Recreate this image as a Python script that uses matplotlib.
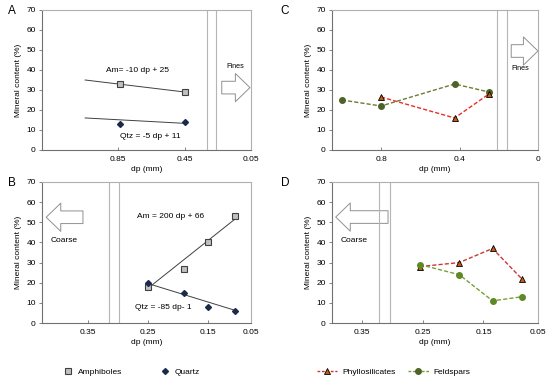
import matplotlib
matplotlib.use("Agg")
import matplotlib.pyplot as plt
from matplotlib.patches import FancyArrowPatch
from matplotlib.lines import Line2D
import numpy as np

plt.rcParams['font.family'] = ['Liberation Sans', 'DejaVu Sans']

# ---------------- data ----------------
# Panel A (coarse fraction, amphiboles / quartz)
dp_A = [0.84, 0.45]
amph_A = [33, 29]
qtz_A = [13, 14]
trend_A_amph = [10.0, 24.5]     # slope, intercept
trend_A_qtz = [4.5, 11.3]
trend_A_x = [1.05, 0.45]

# Panel B (fine fraction, amphiboles / quartz)
dp_B = [0.25, 0.19, 0.15, 0.105]
amph_B = [18, 27, 40, 53]
qtz_B = [20, 15, 8, 6]
trend_B_amph = [-237.0, 76.4]
trend_B_qtz = [91.7, -3.3]
trend_B_x = [0.25, 0.105]

# Panel C (coarse fraction, phyllosilicates / feldspars)
dp_C_feld = [1.0, 0.80, 0.425, 0.25]
feld_C = [25, 22, 33, 29]
dp_C_phyl = [0.80, 0.425, 0.25]
phyl_C = [26.5, 16, 28]

# Panel D (fine fraction, phyllosilicates / feldspars)
dp_D = [0.255, 0.19, 0.135, 0.087]
phyl_D = [28, 30, 37, 22]
feld_D = [29, 24, 11, 13]

# axis ticks
ticks_A = [0.85, 0.45, 0.05]
ticks_C = [0.8, 0.4, 0.0]
tick_labels_fine = ['0.35', '0.25', '0.15', '0.05']
yticks = [0, 10, 20, 30, 40, 50, 60, 70]

# boundary lines (dp)
sep_A = [0.314, 0.261]
sep_B = [0.315, 0.297]
sep_C = [0.21, 0.16]
sep_D = [0.323, 0.304]

# ---------------- styles ----------------
AM_FC = '#c0c0c0'
AM_EC = '#404040'
QZ_C = '#1b2a4a'
PH_LINE_C = '#e8302a'
PH_LINE_D = '#c8383a'
PH_MFC = '#c55a11'
FE_LINE_C = '#6b7d33'
FE_MFC_C = '#4f6228'
FE_LINE_D = '#77a03c'
FE_MFC_D = '#5e8a26'

FS = 6.0

fig = plt.figure(figsize=(5.5, 3.81), dpi=100)
W, H = 550.0, 381.0


def make_ax(l, r, t, b):
    return fig.add_axes([l / W, 1 - b / H, (r - l) / W, (b - t) / H])


axA = make_ax(42, 251, 10, 150)
axC = make_ax(332, 538, 10, 150)
axB = make_ax(42, 251, 182, 323)
axD = make_ax(332, 538, 182, 323)


def style(ax):
    ax.set_ylim(0, 70)
    ax.set_yticks(yticks)
    for s in ['left', 'bottom']:
        ax.spines[s].set_color('#707070')
        ax.spines[s].set_linewidth(0.8)
    for s in ['top', 'right']:
        ax.spines[s].set_color('#b0b0b0')
        ax.spines[s].set_linewidth(0.8)
    ax.tick_params(axis='y', direction='out', length=2.5, width=0.6,
                   color='#707070', labelsize=FS, pad=2)
    ax.tick_params(axis='x', direction='in', length=2.5, width=0.6,
                   color='#707070', labelsize=FS, pad=4)
    ax.set_ylabel('Mineral content (%)', fontsize=FS, labelpad=3)
    ax.set_xlabel('dp (mm)', fontsize=FS, labelpad=2.5)


for ax in (axA, axB, axC, axD):
    style(ax)

# ---- A ----
axA.set_xlim(1.31, 0.05)
axA.set_xticks(ticks_A)
axA.set_xticklabels([f'{t:.2f}' for t in ticks_A])
tx = np.array(trend_A_x)
axA.plot(tx, trend_A_amph[0] * tx + trend_A_amph[1], color='#404040', lw=0.7)
axA.plot(tx, trend_A_qtz[0] * tx + trend_A_qtz[1], color='#404040', lw=0.7)
axA.plot(dp_A, amph_A, ls='none', marker='s', ms=4.4, mfc=AM_FC, mec=AM_EC, mew=0.8)
axA.plot(dp_A, qtz_A, ls='none', marker='D', ms=3.0, mfc=QZ_C, mec=QZ_C)
for x in sep_A:
    axA.axvline(x, color='#b5b5b5', lw=0.8)
axA.text(0.455, 39.5, 'Am= -10 dp + 25', transform=axA.get_yaxis_transform(),
         fontsize=FS, ha='center', va='center')
axA.text(0.518, 6.7, 'Qtz = -5 dp + 11', transform=axA.get_yaxis_transform(),
         fontsize=FS, ha='center', va='center')

# ---- B ----
axB.set_xlim(0.426, 0.078)
axB.set_xticks([0.35, 0.25, 0.15, 0.078])
axB.set_xticklabels(tick_labels_fine)
tx = np.array(trend_B_x)
axB.plot(tx, trend_B_amph[0] * tx + trend_B_amph[1], color='#404040', lw=0.7)
axB.plot(tx, trend_B_qtz[0] * tx + trend_B_qtz[1], color='#404040', lw=0.7)
axB.plot(dp_B, amph_B, ls='none', marker='s', ms=4.4, mfc=AM_FC, mec=AM_EC, mew=0.8)
axB.plot(dp_B, qtz_B, ls='none', marker='D', ms=3.0, mfc=QZ_C, mec=QZ_C)
for x in sep_B:
    axB.axvline(x, color='#b5b5b5', lw=0.8)
axB.text(0.614, 52.9, 'Am = 200 dp + 66', transform=axB.get_yaxis_transform(),
         fontsize=FS, ha='center', va='center')
axB.text(0.582, 7.6, 'Qtz = -85 dp- 1', transform=axB.get_yaxis_transform(),
         fontsize=FS, ha='center', va='center')

# ---- C ----
axC.set_xlim(1.05, 0.0)
axC.set_xticks(ticks_C)
axC.set_xticklabels(['0.8', '0.4', '0'])
axC.plot(dp_C_feld, feld_C, ls='--', lw=1.0, color=FE_LINE_C, marker='o', ms=4,
         mfc=FE_MFC_C, mec=FE_MFC_C, dashes=(3, 1.5))
axC.plot(dp_C_phyl, phyl_C, ls='--', lw=1.0, color=PH_LINE_C, marker='^', ms=4,
         mfc=PH_MFC, mec='#000000', mew=0.6, dashes=(3, 1.5))
for x in sep_C:
    axC.axvline(x, color='#b5b5b5', lw=0.8)

# ---- D ----
axD.set_xlim(0.40, 0.06)
axD.set_xticks([0.35, 0.25, 0.15, 0.06])
axD.set_xticklabels(tick_labels_fine)
axD.plot(dp_D, phyl_D, ls='--', lw=1.0, color=PH_LINE_D, marker='^', ms=4,
         mfc=PH_MFC, mec='#000000', mew=0.6, dashes=(3, 1.5))
axD.plot(dp_D, feld_D, ls='--', lw=1.0, color=FE_LINE_D, marker='o', ms=4,
         mfc=FE_MFC_D, mec=FE_MFC_D, dashes=(3, 1.5))
for x in sep_D:
    axD.axvline(x, color='#b5b5b5', lw=0.8)


# ---- arrows & labels ----
def block_arrow(ax, x0, x1, y):
    tr = ax.get_yaxis_transform()
    p = FancyArrowPatch((x0, y), (x1, y), transform=tr,
                        arrowstyle='simple,head_width=1.45,head_length=0.75,tail_width=0.65',
                        mutation_scale=14, fc='white', ec='#909090', lw=0.7,
                        shrinkA=0, shrinkB=0, clip_on=False)
    ax.add_patch(p)


block_arrow(axA, 0.86, 0.995, 31.2)
axA.text(0.925, 41.5, 'Fines', transform=axA.get_yaxis_transform(),
         fontsize=FS - 0.8, ha='center', va='center')
block_arrow(axC, 0.87, 1.0, 49.5)
axC.text(0.915, 40.5, 'Fines', transform=axC.get_yaxis_transform(),
         fontsize=FS - 0.8, ha='center', va='center')
block_arrow(axB, 0.196, 0.02, 52.5)
axB.text(0.107, 41.2, 'Coarse', transform=axB.get_yaxis_transform(),
         fontsize=FS, ha='center', va='center')
block_arrow(axD, 0.272, 0.018, 52.6)
axD.text(0.107, 41.0, 'Coarse', transform=axD.get_yaxis_transform(),
         fontsize=FS, ha='center', va='center')

# panel letters
for lab, (px, py) in {'A': (12, 11), 'C': (285, 11), 'B': (12, 183), 'D': (285, 183)}.items():
    fig.text(px / W, 1 - py / H, lab, fontsize=8.5, ha='center', va='center')

# ---- legends ----
h_am = Line2D([], [], ls='none', marker='s', ms=4.4, mfc=AM_FC, mec=AM_EC, mew=0.8)
h_qz = Line2D([], [], ls='none', marker='D', ms=3.0, mfc=QZ_C, mec=QZ_C)
leg1 = fig.legend([h_am, h_qz], ['Amphiboles', 'Quartz'], ncol=2, frameon=False,
                  fontsize=FS, loc='center left', bbox_to_anchor=(54 / W, 1 - 372 / H),
                  handlelength=1.5, handletextpad=0.5, columnspacing=4.3)
h_ph = Line2D([], [], ls='--', lw=1.0, color=PH_LINE_D, marker='^', ms=4,
              mfc=PH_MFC, mec='#000000', mew=0.6, dashes=(2, 1.2))
h_fe = Line2D([], [], ls='--', lw=1.0, color=FE_LINE_D, marker='o', ms=4,
              mfc=FE_MFC_C, mec=FE_MFC_C, dashes=(2, 1.2))
leg2 = fig.legend([h_ph, h_fe], ['Phyllosilicates', 'Feldspars'], ncol=2, frameon=False,
                  fontsize=FS, loc='center left', bbox_to_anchor=(309 / W, 1 - 372 / H),
                  handlelength=2.5, handletextpad=0.55, columnspacing=1.5)

fig.savefig('out.png', dpi=100)
